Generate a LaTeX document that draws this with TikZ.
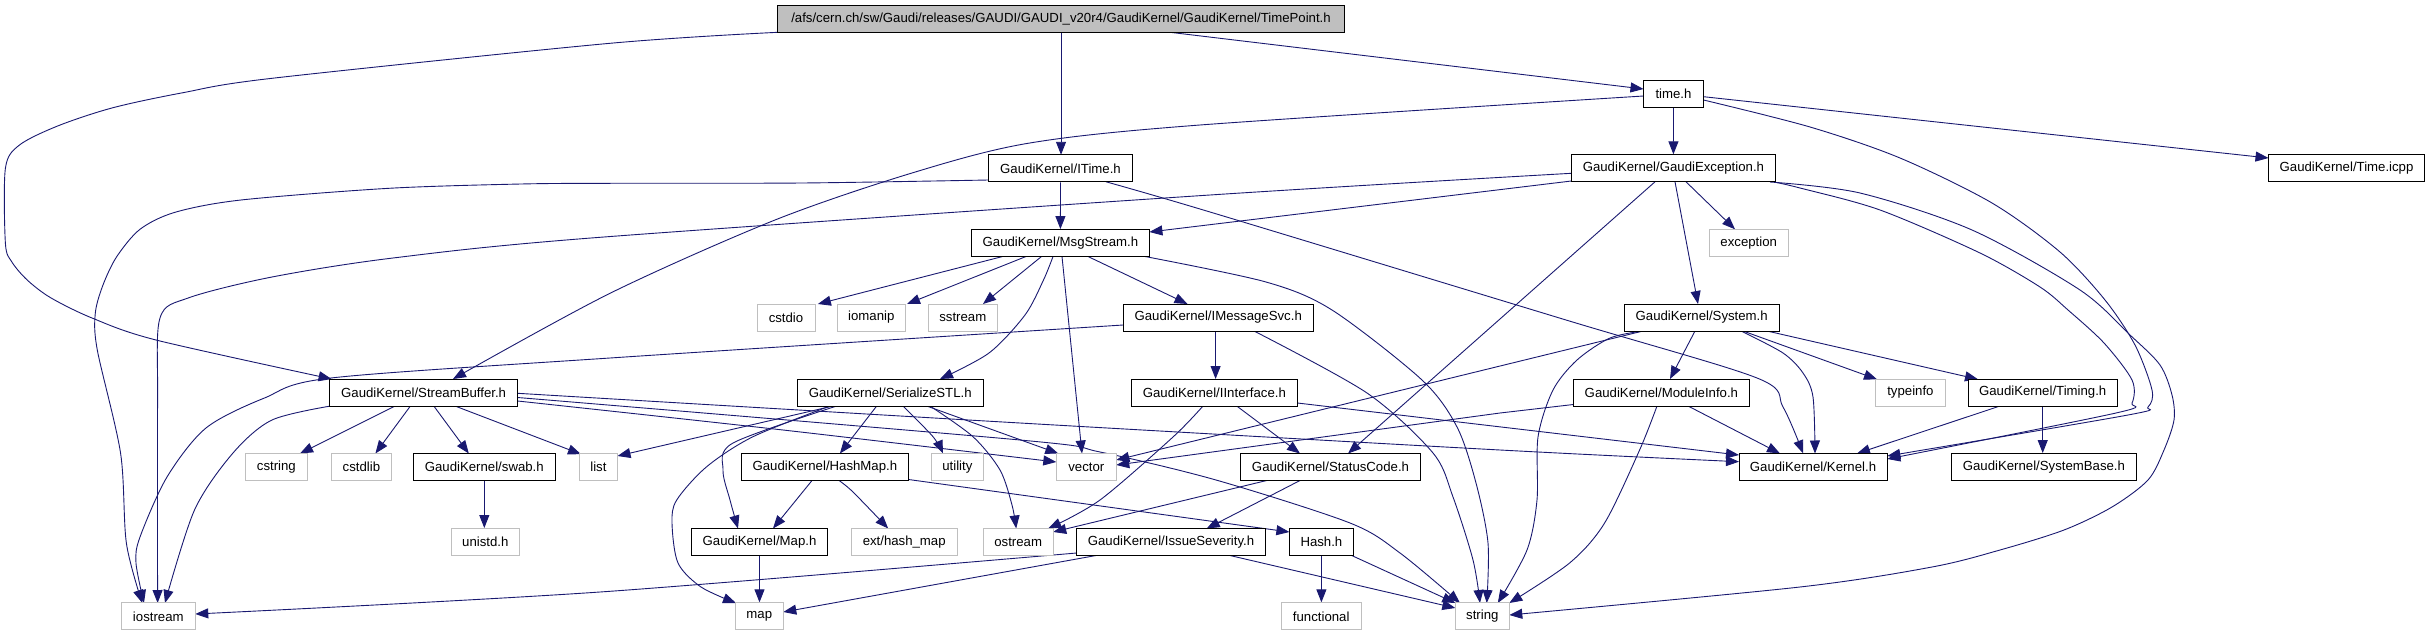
\documentclass[tikz,border=0pt]{standalone}
\usepackage{fontspec}
\setmainfont{Liberation Sans}
\usetikzlibrary{arrows.meta,calc,backgrounds}
\definecolor{edgeblue}{HTML}{191970}
\definecolor{sysgray}{HTML}{BFBFBF}
\begin{document}
\begin{tikzpicture}[x=1pt,y=-1pt,
  filebox/.style={draw=black,line width=0.9pt,fill=white,minimum height=27pt,inner sep=0pt,font=\fontsize{13.2pt}{15pt}\selectfont},
  sysbox/.style={filebox,draw=sysgray},
  rootbox/.style={filebox,fill=sysgray},
  dep/.style={draw=edgeblue,line width=0.9pt,-{Triangle[length=13pt,width=10pt]}},
  sm/.style={smooth,tension=0.5}
]
\useasboundingbox (0,0) rectangle (2428,634);

% nodes
\node[rootbox,minimum width=567pt] (root) at (1061,18.8) {/afs/cern.ch/sw/Gaudi/releases/GAUDI/GAUDI\_v20r4/GaudiKernel/GaudiKernel/TimePoint.h};
\node[filebox,minimum width=60pt] (timeh) at (1673.5,93.8) {time.h};
\node[filebox,minimum width=144pt] (itime) at (1060.5,168.3) {GaudiKernel/ITime.h};
\node[filebox,minimum width=204pt] (gexc) at (1673.4,168.3) {GaudiKernel/GaudiException.h};
\node[filebox,minimum width=156pt] (icpp) at (2346.5,168.2) {GaudiKernel/Time.icpp};
\node[filebox,minimum width=178pt] (msg) at (1060.4,243) {GaudiKernel/MsgStream.h};
\node[sysbox,minimum width=79pt] (exception) at (1748.7,242.8) {exception};
\node[sysbox,minimum width=58pt] (cstdio) at (786,317.5) {cstdio};
\node[sysbox,minimum width=68pt] (iomanip) at (871.3,317.5) {iomanip};
\node[sysbox,minimum width=69pt] (sstream) at (962.8,317.5) {sstream};
\node[filebox,minimum width=190pt] (imsg) at (1218.2,317.5) {GaudiKernel/IMessageSvc.h};
\node[filebox,minimum width=155pt] (system) at (1701.7,317.5) {GaudiKernel/System.h};
\node[filebox,minimum width=188pt] (sbuf) at (423.6,392.5) {GaudiKernel/StreamBuffer.h};
\node[filebox,minimum width=186pt] (sstl) at (890.2,392.5) {GaudiKernel/SerializeSTL.h};
\node[filebox,minimum width=166pt] (iint) at (1214.4,392.5) {GaudiKernel/IInterface.h};
\node[filebox,minimum width=176pt] (modinfo) at (1661.4,392.5) {GaudiKernel/ModuleInfo.h};
\node[sysbox,minimum width=70pt] (typeinfo) at (1910.4,392.5) {typeinfo};
\node[filebox,minimum width=149pt] (timing) at (2042.7,392.5) {GaudiKernel/Timing.h};
\node[sysbox,minimum width=62pt] (cstring) at (276.4,467) {cstring};
\node[sysbox,minimum width=60pt] (cstdlib) at (361.4,467) {cstdlib};
\node[filebox,minimum width=142pt] (swab) at (484.3,467) {GaudiKernel/swab.h};
\node[sysbox,minimum width=38pt] (list) at (598.4,467) {list};
\node[filebox,minimum width=167pt] (hashmap) at (824.9,467) {GaudiKernel/HashMap.h};
\node[sysbox,minimum width=52pt] (utility) at (957.4,467) {utility};
\node[sysbox,minimum width=60pt] (vector) at (1086.3,467) {vector};
\node[filebox,minimum width=180pt] (status) at (1330.5,467) {GaudiKernel/StatusCode.h};
\node[filebox,minimum width=148pt] (kernel) at (1813,467) {GaudiKernel/Kernel.h};
\node[filebox,minimum width=185pt] (sysbase) at (2043.9,467) {GaudiKernel/SystemBase.h};
\node[sysbox,minimum width=68pt] (unistd) at (485.3,542) {unistd.h};
\node[filebox,minimum width=136pt] (maph) at (759.5,542) {GaudiKernel/Map.h};
\node[sysbox,minimum width=106pt] (hashext) at (904.2,542) {ext/hash\_map};
\node[sysbox,minimum width=70pt] (ostream) at (1018.2,542) {ostream};
\node[filebox,minimum width=189pt] (issue) at (1171,542) {GaudiKernel/IssueSeverity.h};
\node[filebox,minimum width=64pt] (hash) at (1321.4,542) {Hash.h};
\node[sysbox,minimum width=74pt] (iostream) at (158.3,616.3) {iostream};
\node[sysbox,minimum width=48pt] (map) at (759.3,616.3) {map};
\node[sysbox,minimum width=80pt] (functional) at (1321.2,616.3) {functional};
\node[sysbox,minimum width=54pt] (string) at (1482.3,616.3) {string};

\begin{scope}[on background layer]
% root
\draw[dep] ($(root)+(109,13.5)$) -- ($(timeh)+(-30,-4.8)$);
\draw[dep] ($(root)+(0,13.5)$) -- ($(itime)+(0.5,-13.5)$);
\draw[dep] plot[sm] coordinates {($(root)+(-283,13.5)$) (610,43.3) (272,78.3) (183,92.7) (113,107.7) (58.4,125.7) (19.5,145) (5.4,168.3) (5.4,243.3) (11.7,261.7) (27.2,280) (50.6,297.7) (92,318) (156,340) ($(sbuf)+(-92,-13.5)$)};
% time.h
\draw[dep] plot[sm] coordinates {($(timeh)+(-30,2.2)$) (1200,125) (1028,143.3) (911,173.3) (775,220) (610,293.3) ($(sbuf)+(29.4,-13.5)$)};
\draw[dep] (timeh.south) -- (gexc.north);
\draw[dep] ($(timeh)+(30,2.9)$) -- ($(icpp)+(-78,-10.2)$);
\draw[dep] plot[sm] coordinates {($(timeh)+(30,6.2)$) (1810,127) (1900,158) (1992,203) (2060,252) (2105,300) (2135,345) (2152,390) (2148,407) (2128,415) ($(kernel)+(74.3,-11)$)};
% ITime
\draw[dep] (itime.south) -- (msg.north);
\draw[dep] plot[sm] coordinates {($(itime)+(-72,11.7)$) (802,183) (610,183.3) (521,184) (389,188.3) (241,200) (175,212.3) (140,229.3) (116.7,256.7) (103,285) (95.3,313.3) (97.3,350) (120.6,453.3) (126.4,543.3) ($(iostream)+(-16,-13.3)$)};
\draw[dep] plot[sm] coordinates {($(itime)+(45.5,13.5)$) (1210,212) (1566,320) (1757,378) (1783,407) ($(kernel)+(-10,-13.7)$)};
% GaudiException
\draw[dep] ($(gexc)+(-102,12.7)$) -- ($(msg)+(89,-11)$);
\draw[dep] plot[sm] coordinates {($(gexc)+(-102,5)$) (1210,195) (600,237.3) (393,258) (272,277) (189,297.7) (160,318) (157.6,400) ($(iostream)+(-0.7,-13.3)$)};
\draw[dep] ($(gexc)+(12.6,13.5)$) -- ($(exception)+(-13.7,-13.5)$);
\draw[dep] ($(gexc)+(1.6,13.5)$) -- ($(system)+(-3.7,-13.5)$);
\draw[dep] ($(gexc)+(-18.4,13.5)$) -- ($(status)+(17.5,-13.5)$);
\draw[dep] plot[sm] coordinates {($(gexc)+(100.6,13.7)$) (1800,188) (1880,210) (1980,253) (2040,287) (2068,310) (2104,343) (2132,380) (2132,403) (2116,413) ($(kernel)+(74.3,-8)$)};
\draw[dep] plot[sm] coordinates {($(gexc)+(96.6,13.7)$) (1860,193) (1972,230) (2080,290) (2130,335) (2160,365) (2172,395) (2174,420) (2164,450) (2148,480) (2112,507) (2064,530) (2000,550) (1932,567) (1800,587) ($(string)+(27,-1.3)$)};
% MsgStream
\draw[dep] ($(msg)+(-57.8,13.5)$) -- ($(cstdio)+(31.9,-13.5)$);
\draw[dep] ($(msg)+(-34.4,13.5)$) -- ($(iomanip)+(35.7,-13.5)$);
\draw[dep] ($(msg)+(-18.9,13.5)$) -- ($(sstream)+(20.2,-13.5)$);
\draw[dep] plot[sm] coordinates {($(msg)+(-7.4,13.5)$) (1043.5,280) (1025,315) (989,353) ($(sstl)+(49.8,-13.5)$)};
\draw[dep] ($(msg)+(1.6,13.5)$) -- ($(vector)+(-4.3,-13.5)$);
\draw[dep] ($(msg)+(27.6,13.5)$) -- ($(imsg)+(-30.7,-13.5)$);
\draw[dep] plot[sm] coordinates {($(msg)+(84.6,13.5)$) (1266,282) (1332,310) (1422,380) (1457,427) (1476,483) (1488,543) ($(string)+(4.4,-13.3)$)};
% IMessageSvc
\draw[dep] ($(imsg)+(-2.6,13.5)$) -- ($(iint)+(1.2,-13.5)$);
\draw[dep] plot[sm] coordinates {($(imsg)+(-95,7.5)$) (610,358) (331,378) (264.5,398) (206,428) (167,477) (140,537) (136,563) ($(iostream)+(-14.3,-13.3)$)};
\draw[dep] plot[sm] coordinates {($(imsg)+(35.8,13.5)$) (1367,393) (1433,453) (1453,497) (1473,560) ($(string)+(-2.3,-13.3)$)};
% System
\draw[dep] ($(system)+(-58.7,13.5)$) -- ($(vector)+(30,-7)$);
\draw[dep] plot[sm] coordinates {($(system)+(-58.7,13.5)$) (1610,338) (1577,360) (1553,390) (1538,437) (1537,500) (1527,550) ($(string)+(15.5,-13.3)$)};
\draw[dep] ($(system)+(-6.7,13.5)$) -- ($(modinfo)+(8.6,-13.5)$);
\draw[dep] ($(system)+(41.3,13.5)$) -- ($(typeinfo)+(-33.4,-13.2)$);
\draw[dep] ($(system)+(65.3,13.5)$) -- ($(timing)+(-64.7,-13.2)$);
\draw[dep] plot[sm] coordinates {($(system)+(39.3,13.5)$) (1783,353) (1803,373) (1813,397) ($(kernel)+(2,-13.5)$)};
% ModuleInfo
\draw[dep] ($(modinfo)+(-88,12)$) -- (1500,413) -- ($(vector)+(30,-2)$);
\draw[dep] plot[sm] coordinates {($(modinfo)+(-4.4,13.5)$) (1639.6,450) (1604.6,523) (1569.6,563) ($(string)+(27,-13.3)$)};
\draw[dep] ($(modinfo)+(26.6,13.5)$) -- ($(kernel)+(-33,-13.5)$);
% Timing
\draw[dep] ($(timing)+(-42.7,13.5)$) -- ($(kernel)+(44,-13.5)$);
\draw[dep] (timing.south) -- (timing.south |- sysbase.north);
% StreamBuffer
\draw[dep] ($(sbuf)+(-28.6,13.5)$) -- ($(cstring)+(23.6,-13.5)$);
\draw[dep] ($(sbuf)+(-13.2,13.5)$) -- ($(cstdlib)+(14,-13.5)$);
\draw[dep] ($(sbuf)+(10.2,13.5)$) -- ($(swab)+(-15.5,-13.5)$);
\draw[dep] ($(sbuf)+(31.4,13.5)$) -- ($(list)+(-17.4,-12.8)$);
\draw[dep] plot[sm] coordinates {($(sbuf)+(-92.9,13.5)$) (272,420) (233,453) (194.5,510) ($(iostream)+(6.7,-13.3)$)};
\draw[dep] plot[sm] coordinates {($(sbuf)+(94,0.8)$) (1020,423) (1500,450) ($(kernel)+(-74,-5.3)$)};
\draw[dep] plot[sm] coordinates {($(sbuf)+(94,8.5)$) (783,430) ($(vector)+(-30,-5)$)};
\draw[dep] plot[sm] coordinates {($(sbuf)+(94,5)$) (1020,440) (1100,452) (1216,480) (1350,523) (1400,553) ($(string)+(-22.3,-13.3)$)};
\draw[dep] (swab.south) -- (swab.south |- unistd.north);
% SerializeSTL
\draw[dep] ($(sstl)+(-57.2,13.5)$) -- ($(list)+(19.1,-11)$);
\draw[dep] ($(sstl)+(-13.5,13.5)$) -- ($(hashmap)+(15,-13.5)$);
\draw[dep] plot[sm] coordinates {($(sstl)+(12.8,13.5)$) (933,436.7) ($(utility)+(-14.4,-13.5)$)};
\draw[dep] ($(sstl)+(36.5,13.5)$) -- ($(vector)+(-28,-13.5)$);
\draw[dep] plot[sm] coordinates {($(sstl)+(39.8,13.5)$) (973,436.7) (1000,470) (1012,505) ($(ostream)+(-2,-13.5)$)};
\draw[dep] plot[sm] coordinates {($(sstl)+(-53.5,13.5)$) (733,443) (723,470) (730,500) ($(maph)+(-21.5,-13.5)$)};
\draw[dep] plot[sm] coordinates {($(sstl)+(-60.2,13.5)$) (753,436.7) (706.7,466.7) (676.7,500) (672,523) (678,563) (701,587) ($(map)+(-23.3,-13.3)$)};
% HashMap
\draw[dep] ($(hashmap)+(-12.9,13.5)$) -- ($(maph)+(13.5,-13.5)$);
\draw[dep] plot[sm] coordinates {($(hashmap)+(14.1,13.5)$) (853,492) ($(hashext)+(-16,-13.5)$)};
\draw[dep] ($(hashmap)+(83.6,12.5)$) -- ($(hash)+(-32,-10)$);
\draw[dep] (maph.south) -- (maph.south |- map.north);
% IInterface
\draw[dep] plot[sm] coordinates {($(iint)+(-11.4,13.5)$) (1173,437) (1100,500) ($(ostream)+(30,-13.5)$)};
\draw[dep] ($(iint)+(22.3,13.5)$) -- ($(status)+(-30.5,-13.5)$);
\draw[dep] ($(iint)+(83,10.5)$) -- ($(kernel)+(-74,-12)$);
% StatusCode
\draw[dep] ($(status)+(-30.5,13.5)$) -- ($(issue)+(35.7,-13.5)$);
\draw[dep] ($(status)+(-63.8,13.5)$) -- ($(ostream)+(35,-10)$);
% IssueSeverity
\draw[dep] plot[sm] coordinates {($(issue)+(-94.4,11)$) (600,592) ($(iostream)+(37,-2.3)$)};
\draw[dep] ($(issue)+(-75,13.5)$) -- ($(map)+(24,-4.3)$);
\draw[dep] ($(issue)+(59,13.5)$) -- ($(string)+(-27,-8.3)$);
% Hash
\draw[dep] (hash.south) -- (hash.south |- functional.north);
\draw[dep] ($(hash)+(30.3,13.5)$) -- ($(string)+(-27,-13.3)$);
\end{scope}
\end{tikzpicture}
\end{document}
